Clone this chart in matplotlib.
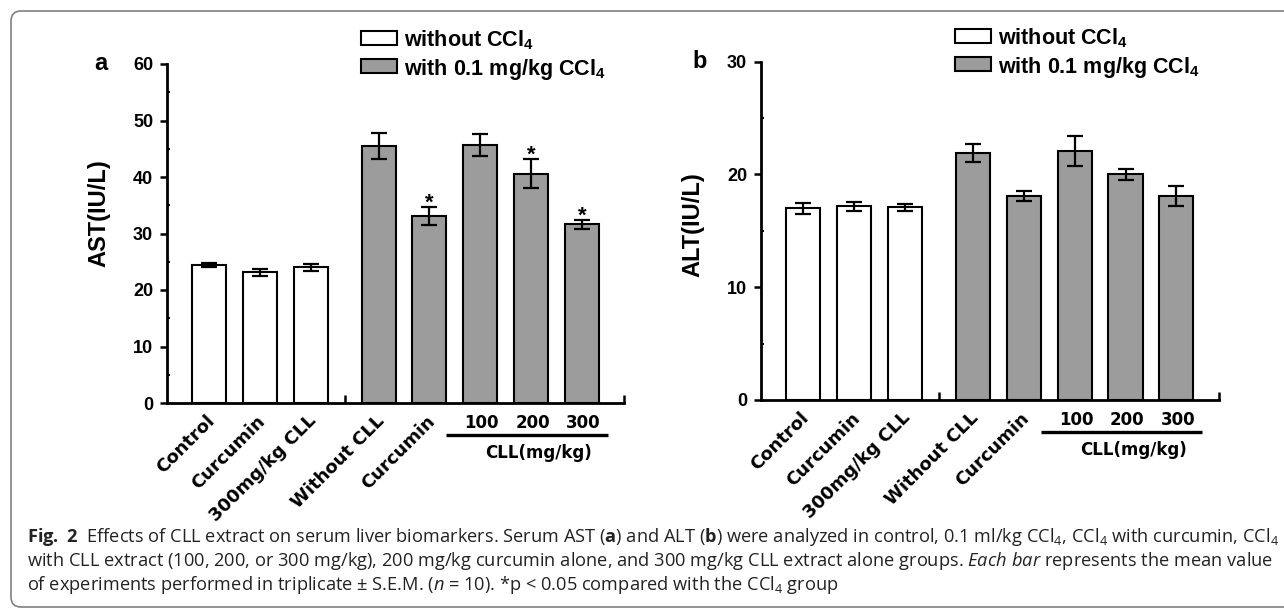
import matplotlib
matplotlib.use('Agg')
import matplotlib.pyplot as plt
from matplotlib.patches import Rectangle, FancyBboxPatch
from matplotlib.ticker import MultipleLocator
from matplotlib.transforms import offset_copy

plt.rcParams['font.family'] = ['Liberation Sans', 'DejaVu Sans']
plt.rcParams['mathtext.fontset'] = 'custom'
plt.rcParams['mathtext.rm'] = 'Open Sans'
plt.rcParams['mathtext.it'] = 'Open Sans:italic'
plt.rcParams['mathtext.bf'] = 'Open Sans:bold'
plt.rcParams['mathtext.sf'] = 'Liberation Sans:bold'

# data
group_labels = ['Control', 'Curcumin', '300mg/kg CLL', 'Without CLL', 'Curcumin']
dose_labels = ['100', '200', '300']
ast_mean = [24.4, 23.1, 24.0, 45.4, 33.1, 45.7, 40.6, 31.6]
ast_sem = [0.4, 0.6, 0.6, 2.3, 1.6, 1.95, 2.6, 0.75]
alt_mean = [17.0, 17.2, 17.1, 21.9, 18.1, 22.1, 20.0, 18.1]
alt_sem = [0.5, 0.4, 0.3, 0.8, 0.47, 1.35, 0.52, 0.9]
ast_sig = [False, False, False, False, True, False, True, True]
alt_sig = [False] * 8
with_ccl4 = [False, False, False, True, True, True, True, True]

W, H = 1284, 609
fig = plt.figure(figsize=(W / 100, H / 100), dpi=100)

def fx(x):
    return x / W

def fy(y):
    return 1 - y / H

# bar positions: 3 bars, a gap, then 5 bars
xpos = [0, 1, 2] + [3 + 1 / 3 + i for i in range(5)]
tick_pos = [k + 0.17 for k in range(9)] + [2.67]


def panel(rect, means, sems, sig, ymax, ystep, ylabel, ylabel_xy, letter, letter_xy, leg_x, leg_y):
    ax = fig.add_axes(rect)
    colors = ['#9c9c9c' if w else 'white' for w in with_ccl4]
    ax.bar(xpos, means, width=0.67, color=colors, edgecolor='black', linewidth=1.5, zorder=2)
    ax.errorbar(xpos, means, yerr=sems, fmt='none', ecolor='black', elinewidth=1.6,
                capsize=5.8, capthick=1.6, zorder=3)
    for x, m, s, st in zip(xpos, means, sems, sig):
        if st:
            ax.annotate('*', xy=(x, m + s), xytext=(0, -1), textcoords='offset points',
                        ha='center', va='baseline', fontsize=16, fontweight='bold')

    ax.set_xlim(-0.83, 8.17)
    ax.set_ylim(0, ymax)
    ax.set_yticks(range(0, ymax + 1, ystep))
    ax.yaxis.set_minor_locator(MultipleLocator(ystep / 2))
    ax.set_xticks(tick_pos)
    ax.tick_params(axis='y', which='major', direction='out', length=5, width=1.8,
                   labelsize=13, pad=5)
    ax.tick_params(axis='y', which='minor', direction='in', length=2.5, width=1.5)
    ax.tick_params(axis='x', which='major', direction='in', length=5.5, width=1.8,
                   labelbottom=False)
    for t in ax.get_yticklabels():
        t.set_fontweight('bold')
    for sp in ['top', 'right']:
        ax.spines[sp].set_visible(False)
    for sp in ['left', 'bottom']:
        ax.spines[sp].set_linewidth(2)

    # category labels under the axis
    for x, lab in zip(xpos[:5], group_labels):
        ax.annotate(lab, xy=(x, 0), xycoords=('data', 'axes fraction'),
                    xytext=(2, -11), textcoords='offset points', rotation=45,
                    rotation_mode='anchor', ha='right', va='center',
                    fontsize=13, fontweight='bold', family='DejaVu Sans')
    for x, lab in zip(xpos[5:], dose_labels):
        ax.annotate(lab, xy=(x, 0), xycoords=('data', 'axes fraction'),
                    xytext=(1, -18), textcoords='offset points', ha='center',
                    va='baseline', fontsize=12, fontweight='bold', family='DejaVu Sans')
    trans = offset_copy(ax.get_xaxis_transform(), fig=fig, y=-32, units='dots')
    ax.plot([xpos[5] - 0.67, xpos[7] + 0.51], [0, 0], color='black', lw=2.4,
            transform=trans, clip_on=False, solid_capstyle='butt')
    ax.annotate('CLL(mg/kg)', xy=((xpos[5] + xpos[7]) / 2 + 0.15, 0),
                xycoords=('data', 'axes fraction'), xytext=(0, -39.5),
                textcoords='offset points', ha='center', va='baseline',
                fontsize=12, fontweight='bold', family='DejaVu Sans')

    fig.text(fx(ylabel_xy[0]), fy(ylabel_xy[1]), ylabel, rotation=90, ha='center',
             va='center', fontsize=17, fontweight='bold')
    fig.text(fx(letter_xy[0]), fy(letter_xy[1]), letter, ha='center', va='center',
             fontsize=17, fontweight='bold')

    # legend boxes
    leg_labels = [r'without CCl$_\mathsf{4}$', r'with 0.1 mg/kg CCl$_\mathsf{4}$']
    for i, (lab, fc) in enumerate(zip(leg_labels, ['white', '#9c9c9c'])):
        top = leg_y + i * 28
        fig.add_artist(Rectangle((fx(leg_x), fy(top + 14)), 36 / W, 14 / H,
                                 transform=fig.transFigure, facecolor=fc,
                                 edgecolor='black', linewidth=1.5))
        fig.text(fx(leg_x + 43), fy(top + 15.5), lab, ha='left', va='baseline',
                 fontsize=15.5, fontweight='bold')
    return ax


ax_a = panel([fx(167), fy(403), (624.5 - 167) / W, (403 - 64) / H], ast_mean, ast_sem,
             ast_sig, 60, 10, 'AST(IU/L)', (99, 213), 'a', (101, 64), 361, 31)
ax_b = panel([fx(761), fy(400), (1219 - 761) / W, (400 - 61.7) / H], alt_mean, alt_sem,
             alt_sig, 30, 10, 'ALT(IU/L)', (693, 225), 'b', (700, 61), 955, 29)

# caption
caption = [
    r'$\mathbf{Fig.\ 2}$  Effects of CLL extract on serum liver biomarkers. Serum AST ($\mathbf{a}$) '
    r'and ALT ($\mathbf{b}$) were analyzed in control, 0.1 ml/kg CCl$_4$, CCl$_4$ with curcumin, CCl$_4$',
    r'with CLL extract (100, 200, or 300 mg/kg), 200 mg/kg curcumin alone, and 300 mg/kg CLL '
    r'extract alone groups. $\mathit{Each\ bar}$ represents the mean value',
    r'of experiments performed in triplicate ± S.E.M. ($\mathit{n}$ = 10). *p < 0.05 compared '
    r'with the CCl$_4$ group',
]
baselines = [542, 566, 590]
texts = []
for line, b in zip(caption, baselines):
    t = fig.text(fx(27), fy(b), line, ha='left', va='baseline', fontsize=13,
                 fontweight='normal', family='Open Sans', color='#222222')
    texts.append(t)
renderer = fig.canvas.get_renderer()
sizes = []
for t in texts[:2]:
    w = t.get_window_extent(renderer=renderer).width
    sizes.append(13 * 1249 / w)
for t in texts:
    t.set_fontsize(sum(sizes) / len(sizes))

# rounded frame around the figure
fig.add_artist(FancyBboxPatch((11, 2), 1300, 596, boxstyle='round,pad=0,rounding_size=10',
                              transform=None, facecolor='none', edgecolor='#808080',
                              linewidth=1.2))

fig.savefig('out.png', dpi=100)
